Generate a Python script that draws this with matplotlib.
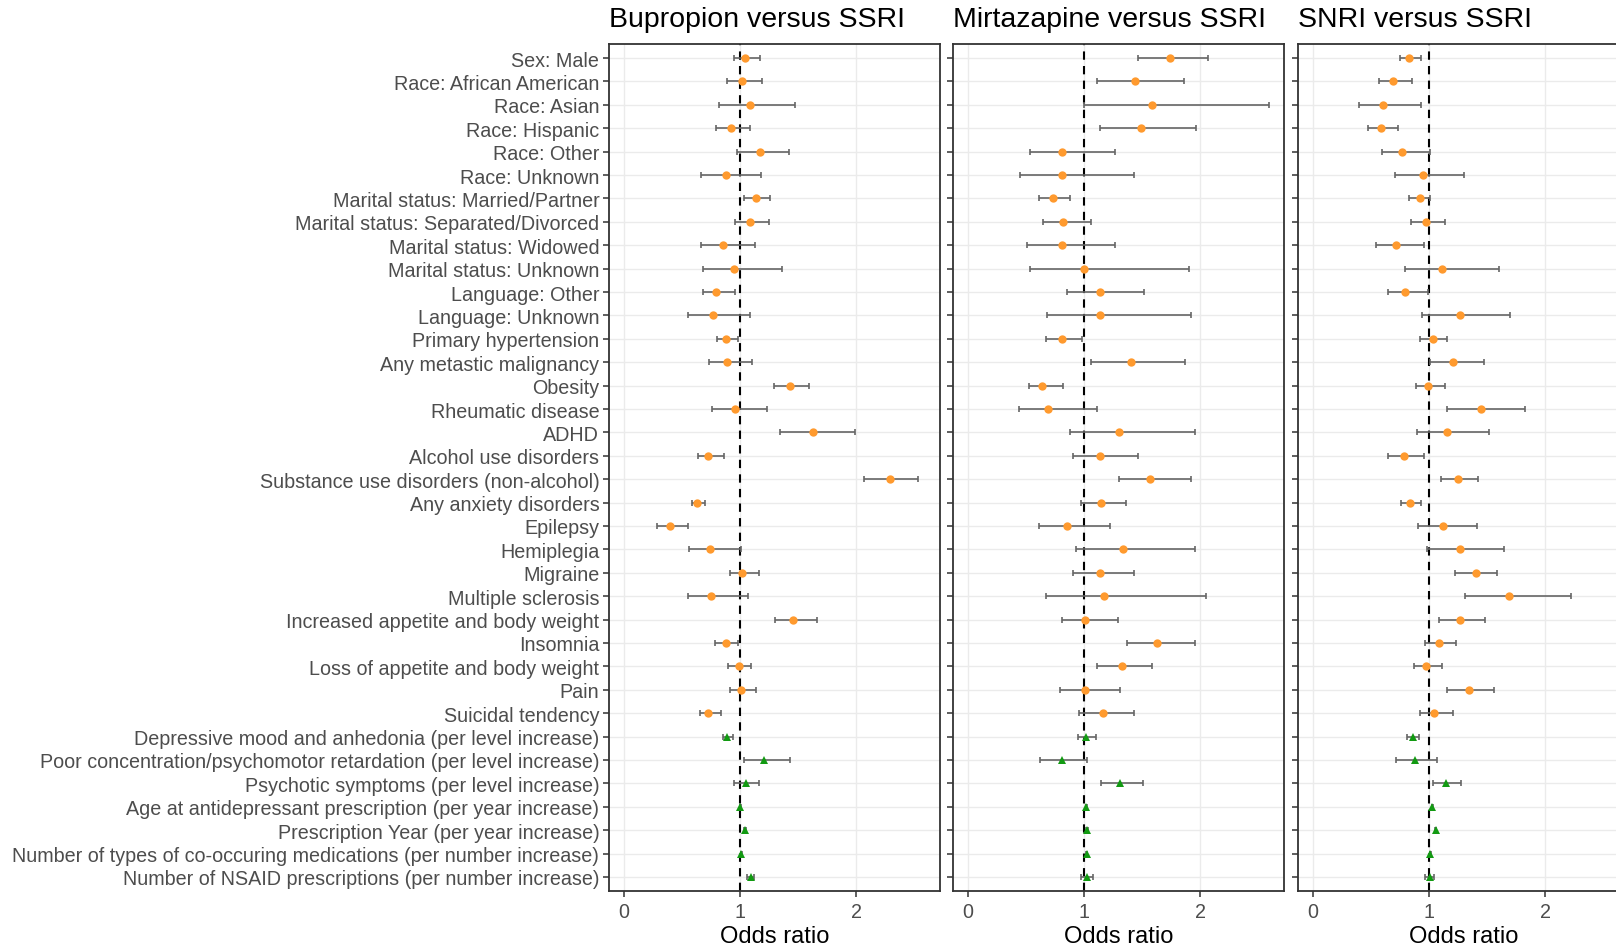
import numpy as np
import matplotlib
matplotlib.use('Agg')
import matplotlib.pyplot as plt

plt.rcParams['font.family'] = ['Liberation Sans', 'DejaVu Sans']

labels = ['Sex: Male', 'Race: African American', 'Race: Asian', 'Race: Hispanic',
          'Race: Other', 'Race: Unknown', 'Marital status: Married/Partner',
          'Marital status: Separated/Divorced', 'Marital status: Widowed',
          'Marital status: Unknown', 'Language: Other', 'Language: Unknown',
          'Primary hypertension', 'Any metastic malignancy', 'Obesity',
          'Rheumatic disease', 'ADHD', 'Alcohol use disorders',
          'Substance use disorders (non-alcohol)', 'Any anxiety disorders',
          'Epilepsy', 'Hemiplegia', 'Migraine', 'Multiple sclerosis',
          'Increased appetite and body weight', 'Insomnia',
          'Loss of appetite and body weight', 'Pain', 'Suicidal tendency',
          'Depressive mood and anhedonia (per level increase)',
          'Poor concentration/psychomotor retardation (per level increase)',
          'Psychotic symptoms (per level increase)',
          'Age at antidepressant prescription (per year increase)',
          'Prescription Year (per year increase)',
          'Number of types of co-occuring medications (per number increase)',
          'Number of NSAID prescriptions (per number increase)']
# 'bin' = binary covariate, 'cont' = per-unit increase
kind = ['bin'] * 29 + ['cont'] * 7

titles = ['Bupropion versus SSRI', 'Mirtazapine versus SSRI', 'SNRI versus SSRI']

bup_or = [1.04, 1.015, 1.085, 0.92, 1.17, 0.875, 1.14, 1.085, 0.85, 0.95, 0.79, 0.77,
          0.875, 0.89, 1.43, 0.96, 1.625, 0.726, 2.29, 0.628, 0.392, 0.74, 1.017, 0.752,
          1.458, 0.876, 0.99, 1.006, 0.723, 0.89, 1.21, 1.052, 1.0, 1.043, 1.011, 1.092]
bup_lo = [0.95, 0.89, 0.815, 0.79, 0.97, 0.66, 1.035, 0.955, 0.66, 0.68, 0.68, 0.555,
          0.805, 0.735, 1.295, 0.76, 1.343, 0.637, 2.072, 0.582, 0.288, 0.556, 0.914, 0.553,
          1.297, 0.784, 0.899, 0.91, 0.651, 0.856, 1.03, 0.948, 0.995, 1.035, 1.005, 1.06]
bup_hi = [1.17, 1.19, 1.47, 1.085, 1.425, 1.18, 1.26, 1.25, 1.125, 1.365, 0.96, 1.085,
          0.985, 1.10, 1.594, 1.236, 1.994, 0.859, 2.53, 0.695, 0.548, 1.008, 1.167, 1.069,
          1.666, 0.983, 1.098, 1.138, 0.836, 0.939, 1.426, 1.167, 1.005, 1.05, 1.017, 1.124]

mir_or = [1.738, 1.439, 1.588, 1.491, 0.806, 0.806, 0.734, 0.817, 0.806, 0.996, 1.134, 1.134,
          0.806, 1.407, 0.639, 0.691, 1.301, 1.134, 1.571, 1.148, 0.855, 1.338, 1.134, 1.174,
          1.01, 1.629, 1.324, 1.01, 1.16, 1.019, 0.806, 1.312, 1.019, 1.024, 1.022, 1.022]
mir_lo = [1.468, 1.108, 0.996, 1.137, 0.532, 0.449, 0.613, 0.645, 0.506, 0.53, 0.852, 0.682,
          0.671, 1.056, 0.521, 0.435, 0.875, 0.906, 1.301, 0.973, 0.613, 0.932, 0.906, 0.671,
          0.812, 1.373, 1.111, 0.791, 0.955, 0.947, 0.624, 1.148, 1.014, 1.018, 1.016, 0.973]
mir_hi = [2.072, 1.862, 2.593, 1.965, 1.266, 1.433, 0.878, 1.059, 1.266, 1.905, 1.514, 1.917,
          0.978, 1.873, 0.817, 1.111, 1.954, 1.462, 1.917, 1.364, 1.226, 1.954, 1.433, 2.052,
          1.292, 1.954, 1.586, 1.306, 1.433, 1.099, 1.022, 1.505, 1.024, 1.030, 1.028, 1.076]

snri_or = [0.825, 0.687, 0.603, 0.589, 0.770, 0.948, 0.920, 0.974, 0.716, 1.112, 0.796, 1.264,
           1.032, 1.207, 0.989, 1.443, 1.152, 0.782, 1.25, 0.839, 1.124, 1.264, 1.402, 1.690,
           1.264, 1.086, 0.974, 1.348, 1.046, 0.865, 0.879, 1.147, 1.029, 1.057, 1.011, 1.006]
snri_lo = [0.747, 0.566, 0.399, 0.471, 0.592, 0.707, 0.825, 0.842, 0.543, 0.790, 0.649, 0.943,
           0.922, 1.011, 0.885, 1.155, 0.897, 0.647, 1.103, 0.756, 0.908, 0.980, 1.227, 1.310,
           1.083, 0.966, 0.871, 1.155, 0.920, 0.813, 0.716, 1.037, 1.024, 1.052, 1.006, 0.966]
snri_hi = [0.931, 0.853, 0.931, 0.736, 1.006, 1.299, 1.006, 1.135, 0.960, 1.606, 0.994, 1.701,
           1.158, 1.477, 1.135, 1.825, 1.520, 0.957, 1.425, 0.931, 1.411, 1.644, 1.589, 2.224,
           1.480, 1.233, 1.112, 1.560, 1.207, 0.911, 1.066, 1.276, 1.034, 1.062, 1.016, 1.046]

panels = [(bup_or, bup_lo, bup_hi), (mir_or, mir_lo, mir_hi), (snri_or, snri_lo, snri_hi)]

W, H = 1616, 953
fig = plt.figure(figsize=(W / 100, H / 100), dpi=100)
lefts = [609, 953, 1298]
pw = 331
top, bot = 45, 892

y = np.arange(len(labels))
kind = np.array(kind)
for i, (orv, lo, hi) in enumerate(panels):
    ax = fig.add_axes([lefts[i] / W, 1 - bot / H, pw / W, (bot - top) / H])
    orv, lo, hi = np.array(orv), np.array(lo), np.array(hi)
    ax.set_axisbelow(True)
    ax.grid(True, color='#EBEBEB', lw=1.0)
    ax.axvline(1, color='black', lw=1.5, ls=(0, (4, 3)), zorder=2)
    ax.errorbar(orv, y, xerr=[orv - lo, hi - orv], fmt='none', ecolor='#666666',
                elinewidth=1.2, capsize=2.3, capthick=1.2, zorder=3)
    b = kind == 'bin'
    ax.plot(orv[b], y[b], 'o', color='#FF9A2E', ms=6, mew=0, zorder=4)
    ax.plot(orv[~b], y[~b], '^', color='#129A12', ms=5.5, mew=0, zorder=4)
    ax.set_xlim(-0.1297, 2.7227)
    ax.set_ylim(len(labels) - 0.4, -0.6)
    ax.set_xticks([0, 1, 2])
    ax.set_yticks(y)
    if i == 0:
        ax.set_yticklabels(labels)
    else:
        ax.set_yticklabels([])
    ax.tick_params(axis='both', colors='#333333', labelcolor='#4D4D4D',
                   labelsize=14.2, length=4, width=1.1)
    ax.tick_params(axis='y', pad=3)
    ax.tick_params(axis='x', pad=4)
    for s in ax.spines.values():
        s.set_color('#333333')
        s.set_linewidth(1.3)
    ax.set_xlabel('Odds ratio', fontsize=17, labelpad=3)
    ax.set_title(titles[i], loc='left', fontsize=20.5, pad=13)

fig.savefig('out.png', dpi=100)
